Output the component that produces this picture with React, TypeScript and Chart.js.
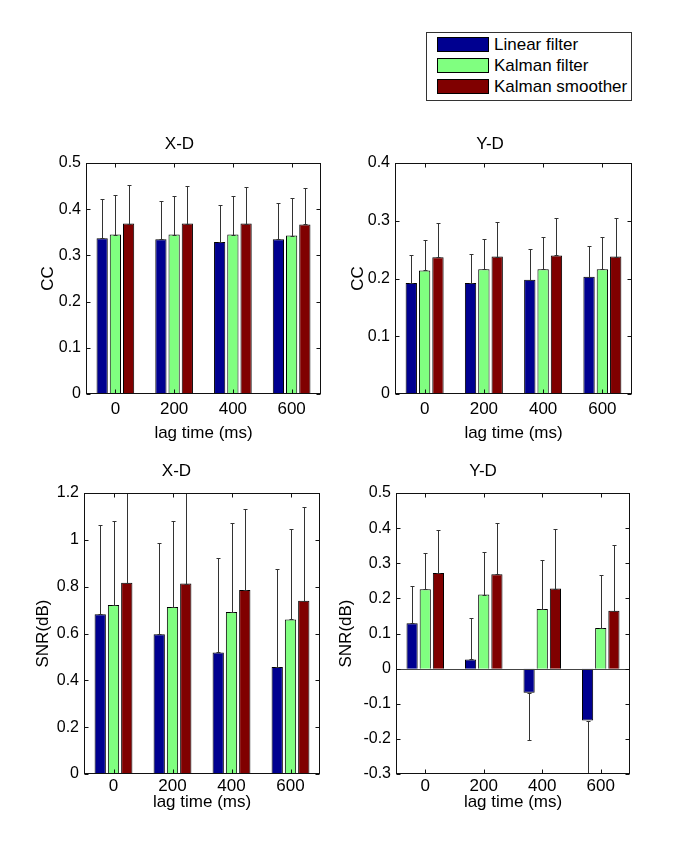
import React, { useEffect, useRef } from 'react';
import { Chart, registerables } from 'chart.js';

Chart.register(...registerables);

// ---------- data ----------
const categories = ['0', '200', '400', '600'];
const seriesNames = ['Linear filter', 'Kalman filter', 'Kalman smoother'];
const seriesColors = ['#000090', '#80ff80', '#800000'];

// CC, X-D
const ccXLinear = [0.337, 0.335, 0.329, 0.335];
const ccXKalman = [0.345, 0.345, 0.345, 0.343];
const ccXSmoother = [0.369, 0.369, 0.369, 0.367];
const ccXLinearErr = [0.084, 0.082, 0.080, 0.078];
const ccXKalmanErr = [0.086, 0.083, 0.083, 0.081];
const ccXSmootherErr = [0.084, 0.082, 0.078, 0.078];

// CC, Y-D
const ccYLinear = [0.192, 0.192, 0.198, 0.203];
const ccYKalman = [0.214, 0.216, 0.216, 0.216];
const ccYSmoother = [0.237, 0.238, 0.240, 0.238];
const ccYLinearErr = [0.049, 0.051, 0.053, 0.053];
const ccYKalmanErr = [0.053, 0.053, 0.056, 0.056];
const ccYSmootherErr = [0.059, 0.060, 0.064, 0.066];

// SNR, X-D
const snrXLinear = [0.682, 0.597, 0.519, 0.457];
const snrXKalman = [0.722, 0.713, 0.692, 0.660];
const snrXSmoother = [0.817, 0.813, 0.786, 0.740];
const snrXLinearErr = [0.381, 0.389, 0.403, 0.418];
const snrXKalmanErr = [0.360, 0.369, 0.379, 0.388];
const snrXSmootherErr = [0.383, 0.387, 0.347, 0.402];

// SNR, Y-D
const snrYLinear = [0.129, 0.026, -0.069, -0.148];
const snrYKalman = [0.226, 0.211, 0.170, 0.116];
const snrYSmoother = [0.272, 0.269, 0.228, 0.165];
const snrYLinearErr = [0.105, 0.117, 0.135, 0.149];
const snrYKalmanErr = [0.102, 0.120, 0.138, 0.150];
const snrYSmootherErr = [0.124, 0.147, 0.170, 0.187];

// tick labels
const ccXTicks = [0, 0.1, 0.2, 0.3, 0.4, 0.5];
const ccYTicks = [0, 0.1, 0.2, 0.3, 0.4];
const snrXTicks = [0, 0.2, 0.4, 0.6, 0.8, 1, 1.2];
const snrYTicks = [-0.3, -0.2, -0.1, 0, 0.1, 0.2, 0.3, 0.4, 0.5];

const xAxisLabel = 'lag time (ms)';

const panels = [
  { title: 'X-D', yLabel: 'CC', ticks: ccXTicks, values: [ccXLinear, ccXKalman, ccXSmoother], errors: [ccXLinearErr, ccXKalmanErr, ccXSmootherErr] },
  { title: 'Y-D', yLabel: 'CC', ticks: ccYTicks, values: [ccYLinear, ccYKalman, ccYSmoother], errors: [ccYLinearErr, ccYKalmanErr, ccYSmootherErr] },
  { title: 'X-D', yLabel: 'SNR(dB)', ticks: snrXTicks, values: [snrXLinear, snrXKalman, snrXSmoother], errors: [snrXLinearErr, snrXKalmanErr, snrXSmootherErr] },
  { title: 'Y-D', yLabel: 'SNR(dB)', ticks: snrYTicks, values: [snrYLinear, snrYKalman, snrYSmoother], errors: [snrYLinearErr, snrYKalmanErr, snrYSmootherErr] },
];

// ---------- layout ----------
const layouts = [
  { l: 86, r: 321, t: 163, b: 394, yW: 48, titlePad: 9, xTickPad: 5, xH: 49 },
  { l: 395, r: 632, t: 163, b: 394, yW: 47, titlePad: 9, xTickPad: 5, xH: 49 },
  { l: 84, r: 320, t: 493, b: 774, yW: 51, titlePad: 12, xTickPad: 2, xH: 38 },
  { l: 396, r: 630, t: 493, b: 774, yW: 60, titlePad: 12, xTickPad: 2, xH: 38 },
];

const FONT = '"Liberation Sans", Arial, Helvetica, sans-serif';
const RIGHT_PAD = 4;
const TEXT_SIZE = 17;
const TICK_SIZE = 16;

const fmt = (v: number) => String(Math.round(v * 10) / 10);

const matlabAxes = {
  id: 'matlabAxes',
  afterDatasetsDraw(chart: any) {
    const { ctx, chartArea: a, scales } = chart;
    const x = scales.x;
    const y = scales.y;
    const L = Math.round(a.left) + 0.5;
    const R = Math.round(a.right) - 0.5;
    const T = Math.round(a.top) + 0.5;
    const B = Math.round(a.bottom) - 0.5;
    ctx.save();
    ctx.lineWidth = 1;
    // zero baseline
    if (y.min < 0 && y.max > 0) {
      const z = Math.round(y.getPixelForValue(0)) + 0.5;
      ctx.strokeStyle = '#444';
      ctx.beginPath();
      ctx.moveTo(L, z);
      ctx.lineTo(R, z);
      ctx.stroke();
    }
    // error bars
    ctx.save();
    ctx.beginPath();
    ctx.rect(a.left, a.top, a.right - a.left, a.bottom - a.top);
    ctx.clip();
    ctx.strokeStyle = '#333';
    chart.data.datasets.forEach((ds: any, i: number) => {
      const meta = chart.getDatasetMeta(i);
      meta.data.forEach((bar: any, j: number) => {
        const v = ds.data[j];
        const e = ds.errors[j];
        const end = v >= 0 ? v + e : v - e;
        const px = Math.round(bar.x) + 0.5;
        const p0 = Math.round(y.getPixelForValue(v)) + 0.5;
        const p1 = Math.round(y.getPixelForValue(end)) + 0.5;
        ctx.beginPath();
        ctx.moveTo(px, p0);
        ctx.lineTo(px, p1);
        ctx.moveTo(px - 2, p1);
        ctx.lineTo(px + 2, p1);
        ctx.moveTo(px - 2, p0);
        ctx.lineTo(px + 2, p0);
        ctx.stroke();
      });
    });
    ctx.restore();
    // box
    ctx.strokeStyle = '#111';
    ctx.strokeRect(L, T, R - L, B - T);
    // inward ticks
    ctx.beginPath();
    const tl = 4;
    x.ticks.forEach((_: any, i: number) => {
      const px = Math.round(x.getPixelForTick(i)) + 0.5;
      ctx.moveTo(px, B);
      ctx.lineTo(px, B - tl);
      ctx.moveTo(px, T);
      ctx.lineTo(px, T + tl);
    });
    y.ticks.forEach((t: any) => {
      const py = Math.round(y.getPixelForValue(t.value)) + 0.5;
      ctx.moveTo(L, py);
      ctx.lineTo(L + tl, py);
      ctx.moveTo(R, py);
      ctx.lineTo(R - tl, py);
    });
    ctx.stroke();
    ctx.restore();
  },
};

function Panel({ index }: { index: number }) {
  const ref = useRef<HTMLCanvasElement>(null);
  const p = panels[index];
  const lay = layouts[index];
  const left = lay.l - lay.yW;
  const top = lay.t - (20 + lay.titlePad);
  const width = lay.r - left + RIGHT_PAD;
  const height = lay.b + lay.xH - top;

  useEffect(() => {
    const chart = new Chart(ref.current as HTMLCanvasElement, {
      type: 'bar',
      data: {
        labels: categories,
        datasets: p.values.map((vals, i) => ({
          label: seriesNames[i],
          data: vals,
          errors: p.errors[i],
          backgroundColor: seriesColors[i],
          borderColor: '#000',
          borderWidth: 1,
          categoryPercentage: 0.675,
          barPercentage: 0.85,
        })) as any,
      },
      options: {
        animation: false,
        responsive: false,
        maintainAspectRatio: false,
        devicePixelRatio: 1,
        layout: { padding: { left: 0, top: 0, bottom: 0, right: RIGHT_PAD } },
        plugins: {
          legend: { display: false },
          tooltip: { enabled: false },
          title: {
            display: true,
            text: p.title,
            color: '#000',
            font: { family: FONT, size: TEXT_SIZE, weight: 'normal', lineHeight: '20px' },
            padding: { top: 0, bottom: lay.titlePad },
          },
        },
        scales: {
          x: {
            type: 'category',
            offset: true,
            grid: { display: false, drawTicks: false },
            border: { display: false },
            ticks: {
              color: '#000',
              padding: lay.xTickPad,
              maxRotation: 0,
              autoSkip: false,
              font: { family: FONT, size: TEXT_SIZE, lineHeight: '20px' },
            },
            title: {
              display: true,
              text: xAxisLabel,
              color: '#000',
              padding: 0,
              font: { family: FONT, size: TEXT_SIZE, lineHeight: '20px' },
            },
            afterFit: (s: any) => {
              s.height = lay.xH;
            },
          },
          y: {
            type: 'linear',
            min: p.ticks[0],
            max: p.ticks[p.ticks.length - 1],
            grid: { display: false, drawTicks: false },
            border: { display: false },
            afterBuildTicks: (s: any) => {
              s.ticks = p.ticks.map((v) => ({ value: v }));
            },
            ticks: {
              color: '#000',
              padding: 5,
              autoSkip: false,
              font: { family: FONT, size: TICK_SIZE, lineHeight: '20px' },
              callback: (v: any) => fmt(Number(v)),
            },
            title: {
              display: true,
              text: p.yLabel,
              color: '#000',
              padding: 0,
              font: { family: FONT, size: TEXT_SIZE, lineHeight: '20px' },
            },
            afterFit: (s: any) => {
              s.width = lay.yW;
            },
          },
        },
      } as any,
      plugins: [matlabAxes],
    });
    return () => chart.destroy();
  }, []);

  return (
    <canvas
      ref={ref}
      width={width}
      height={height}
      style={{ position: 'absolute', left, top, width, height }}
    />
  );
}

function Legend() {
  return (
    <div
      style={{
        position: 'absolute',
        left: 426,
        top: 32,
        width: 206,
        height: 69,
        boxSizing: 'border-box',
        border: '1px solid #333',
        background: '#fff',
        fontFamily: FONT,
        fontSize: TEXT_SIZE,
        color: '#000',
      }}
    >
      {seriesNames.map((name, i) => (
        <div key={name} style={{ position: 'absolute', left: 10, top: 4 + i * 21, height: 15, display: 'flex', alignItems: 'center' }}>
          <div style={{ width: 52, height: 15, boxSizing: 'border-box', border: '1px solid #000', background: seriesColors[i] }} />
          <span style={{ marginLeft: 5, lineHeight: '15px', whiteSpace: 'nowrap' }}>{name}</span>
        </div>
      ))}
    </div>
  );
}

export default function App() {
  return (
    <div style={{ position: 'absolute', left: 0, top: 0, width: 673, height: 841, background: '#fff', overflow: 'hidden' }}>
      {panels.map((_, i) => (
        <Panel key={i} index={i} />
      ))}
      <Legend />
    </div>
  );
}
